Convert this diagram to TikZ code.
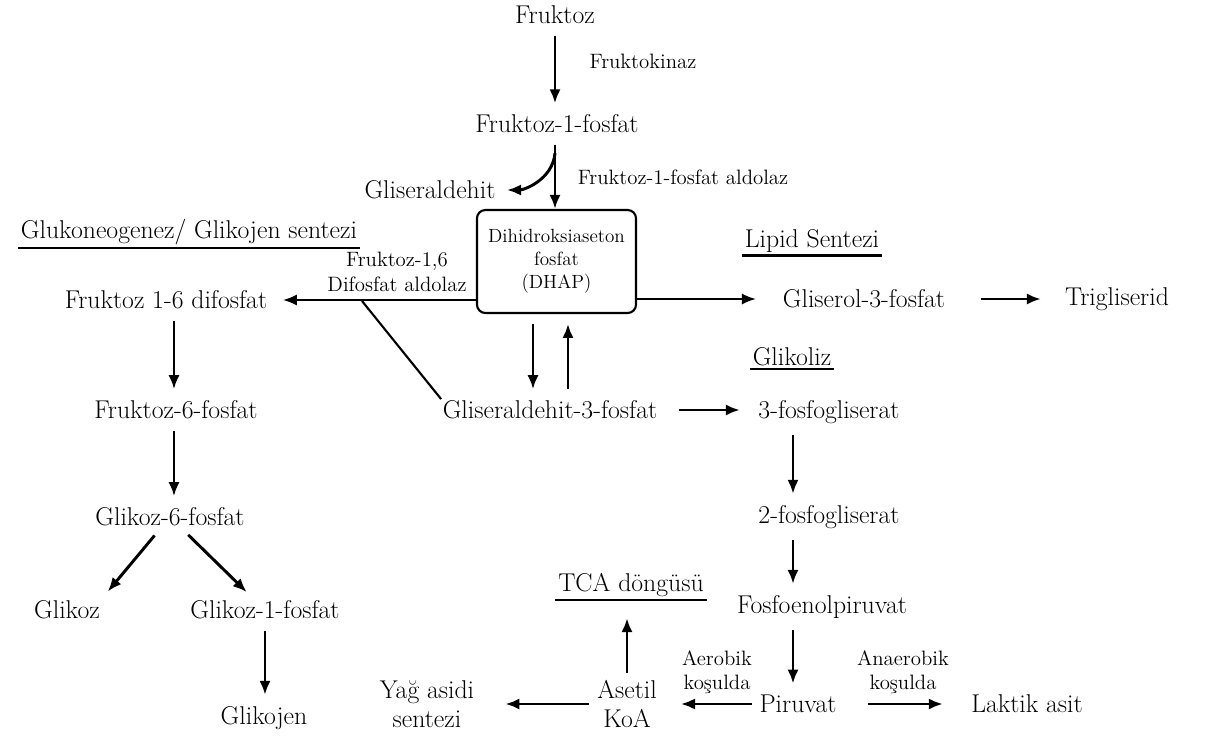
\documentclass[tikz,border=0pt]{standalone}
\usepackage{tikz}
\usetikzlibrary{arrows.meta}
\begin{document}
\begin{tikzpicture}[x=0.025cm, y=-0.025cm, >={Latex[length=10pt,width=8pt]},
  every node/.style={font=\fontsize{18.3}{20.5}\selectfont, align=center, inner sep=1pt},
  enz/.style={font=\fontsize{14.8}{17.5}\selectfont},
  flow/.style={->, line width=2.1pt, shorten <=7pt, shorten >=7pt},
  side/.style={->, line width=1.5pt},
  head/.style={inner sep=2pt},
  uline/.style={line width=1.6pt}]
\useasboundingbox (0,0) rectangle (1206,738);
\node (fru) at (555,15) {Fruktoz};
\node (f1p) at (557,124) {Fruktoz-1-fosfat};
\node[enz] (fkin) at (643,61) {Fruktokinaz};
\node[enz] (f1pald) at (683,177) {Fruktoz-1-fosfat aldolaz};
\node (glald) at (430,190) {Gliseraldehit};
\node[draw, line width=1.5pt, rounded corners=6pt, minimum width=3.975cm, minimum height=2.575cm,
  font=\fontsize{13.6}{16.4}\selectfont] (dhap) at (556.5,261.5) {Dihidroksiaseton\\fosfat\\(DHAP)};
\node[head] (hglk) at (189,232) {Glukoneogenez/ Glikojen sentezi};
\node[head] (hlip) at (812,241) {Lipid Sentezi};
\node[head] (hgly) at (792,357) {Glikoliz};
\node[head] (htca) at (631,585) {TCA döngüsü};
\node[enz] (f16ald) at (397,272) {Fruktoz-1,6\\Difosfat aldolaz};
\node (f16) at (166,300) {Fruktoz 1-6 difosfat};
\node (gl3p) at (864,299) {Gliserol-3-fosfat};
\node (tg) at (1117,299) {Trigliserid};
\node (g3p) at (550,410) {Gliseraldehit-3-fosfat};
\node (pg3) at (829,412) {3-fosfogliserat};
\node (f6p) at (176,410) {Fruktoz-6-fosfat};
\node (g6p) at (170,517) {Glikoz-6-fosfat};
\node (glk) at (67,610) {Glikoz};
\node (g1p) at (265,610) {Glikoz-1-fosfat};
\node (gkj) at (264,718) {Glikojen};
\node (pg2) at (829,517) {2-fosfogliserat};
\node (pep) at (822,607) {Fosfoenolpiruvat};
\node (pir) at (798,704) {Piruvat};
\node (lak) at (1027,704) {Laktik asit};
\node (aset) at (627,704) {Asetil\\KoA};
\node (yag) at (427,704) {Yağ asidi\\sentezi};
\node[enz] (aer) at (717,672) {Aerobik\\koşulda};
\node[enz] (anaer) at (903,672) {Anaerobik\\koşulda};
\foreach \h in {hglk,hlip,hgly,htca}
  \draw[uline] (\h.south west) -- (\h.south east);
\coordinate (cm) at (555,0);
\coordinate (cl) at (174,0);
\coordinate (cr) at (793,0);
\coordinate (dn) at (533,0);
\coordinate (up) at (568,0);
\coordinate (split) at (555,153);
\coordinate (ald) at (362,301);
\draw[flow] (fru.south -| cm) -- (f1p.north -| cm);
\draw[flow, shorten >=0pt] (f1p.south -| cm) -- (dhap.north -| cm);
\draw[flow, shorten <=0pt] (split) to[out=-95, in=0] (glald.east);
\draw[flow] (dhap.south -| dn) -- (g3p.north -| dn);
\draw[flow] (g3p.north -| up) -- (dhap.south -| up);
\draw[side, shorten >=10pt] (dhap.west |- f16) -- (f16.east);
\draw[side, shorten >=18pt] (dhap.east |- gl3p) -- (gl3p.west);
\draw[line width=1.5pt] (ald) -- (g3p.north west);
\draw[flow, shorten <=24pt, shorten >=16pt] (gl3p) -- (tg);
\draw[flow, shorten <=14pt, shorten >=12pt] (g3p.east) -- (g3p.east -| pg3.west);
\foreach \a/\b in {f16/f6p, f6p/g6p}
  \draw[flow] (\a.south -| cl) -- (\b.north -| cl);
\foreach \a/\b in {pg3/pg2, pg2/pep, pep/pir}
  \draw[flow] (\a.south -| cr) -- (\b.north -| cr);
\draw[flow] (g6p) -- (glk.north east);
\draw[flow] (g6p) -- (g1p);
\draw[flow] (g1p) -- (g1p |- gkj.north);
\draw[flow, shorten <=4pt, shorten >=16pt] (pir.west) -- (pir.west -| aset.east);
\draw[flow, shorten <=21pt, shorten >=19pt] (pir.east) -- (pir.east -| lak.west);
\draw[flow, shorten <=5pt, shorten >=21pt] (aset.west) -- (aset.west -| yag.east);
\draw[flow, shorten <=4pt, shorten >=13pt] (aset.north) -- (htca.south -| aset.north);
\end{tikzpicture}
\end{document}
